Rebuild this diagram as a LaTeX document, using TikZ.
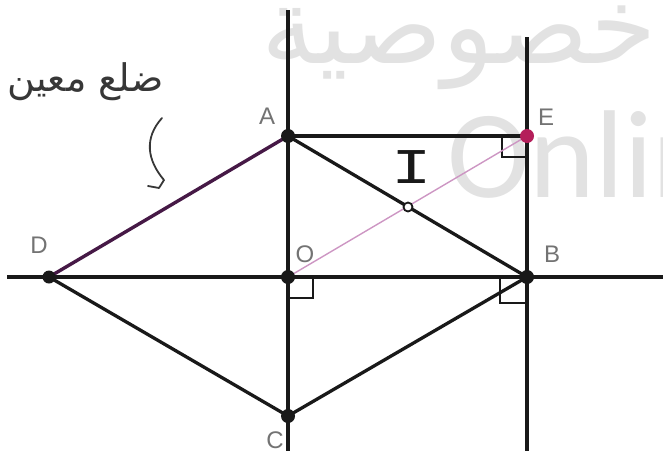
\documentclass[tikz,border=0pt]{standalone}
\usepackage{fontspec}
\setmainfont{Liberation Sans}
\newfontfamily\arabicfont[Script=Arabic]{DejaVu Sans}
\newfontfamily\wmfont{Carlito}
\newfontfamily\monoI{Liberation Mono}
\TeXXeTstate=1
\usepackage{graphicx}
\definecolor{lineblack}{RGB}{25,25,25}
\definecolor{sidepurple}{RGB}{70,25,70}
\definecolor{diagpink}{RGB}{205,150,195}
\definecolor{edot}{RGB}{180,30,90}
\definecolor{labelgray}{RGB}{115,115,115}
\definecolor{wmgray}{RGB}{226,226,226}
\definecolor{handgray}{RGB}{55,55,55}
\tikzset{
  geoline/.style={draw=lineblack, line width=3.3pt},
  axisline/.style={draw=lineblack, line width=3.1pt},
  rightmark/.style={draw=lineblack, line width=2.3pt},
  blackdot/.style={circle, fill=lineblack, minimum size=14pt, inner sep=0pt},
  reddot/.style={circle, fill=edot, minimum size=14pt, inner sep=0pt},
  opendot/.style={circle, draw=lineblack, fill=white, line width=1.8pt, minimum size=9pt, inner sep=0pt},
  ptlabel/.style={text=labelgray, font=\fontsize{24}{24}\selectfont, inner sep=0pt},
  wmtext/.style={text=wmgray, inner sep=0pt}
}
\begin{document}
\begin{tikzpicture}[x=1pt,y=-1pt]
\useasboundingbox (0,0) rectangle (663,450);
% watermark
\node[wmtext, anchor=north west] (wmar) at (261,6) {\resizebox{396pt}{!}{\arabicfont\beginR خصوصية\endR}};
\node[wmtext, anchor=base west, font=\wmfont\fontsize{125}{125}\selectfont] (wmen) at (447,197) {Online};
% points
\coordinate (A) at (288,136);
\coordinate (E) at (527,136);
\coordinate (O) at (288,277);
\coordinate (B) at (527,277);
\coordinate (D) at (49,277);
\coordinate (C) at (288,416);
\coordinate (I) at (408,207);
% free ends of the lines
\coordinate (v1top) at (288,10);
\coordinate (v1bot) at (288,452);
\coordinate (v2top) at (527,37);
\coordinate (v2bot) at (527,452);
\coordinate (hleft) at (7,277);
\coordinate (hright) at (665,277);
% axes
\draw[axisline] (v1top) -- (v1bot);
\draw[axisline] (v2top) -- (v2bot);
\draw[axisline] (hleft) -- (hright);
% right angle marks
\draw[rightmark] (502,136) -- (502,157) -- (527,157);
\draw[rightmark] (288,298) -- (313,298) -- (313,277);
\draw[rightmark] (500,277) -- (500,303) -- (527,303);
% figure
\draw[geoline] (A) -- (E);
\draw[geoline] (A) -- (B);
\draw[geoline] (B) -- (C);
\draw[geoline] (C) -- (D);
\draw[line width=3.4pt, draw=sidepurple] (D) -- (A);
\draw[line width=1.4pt, draw=diagpink] (O) -- (E);
% dots
\node[blackdot] (nA) at (A) {};
\node[blackdot] (nO) at (O) {};
\node[blackdot] (nB) at (B) {};
\node[blackdot, minimum size=13pt] (nD) at (D) {};
\node[blackdot] (nC) at (C) {};
\node[reddot] (nE) at (E) {};
\node[opendot] (nI) at (I) {};
% labels
\node[ptlabel] (lA) at (267,116) {A};
\node[ptlabel] (lE) at (546,117) {E};
\node[ptlabel] (lO) at (305,254) {O};
\node[ptlabel] (lB) at (552,254) {B};
\node[ptlabel] (lD) at (39,245) {D};
\node[ptlabel] (lC) at (275,440) {C};
\node[inner sep=0pt, text=lineblack, font=\monoI\fontsize{50}{50}\selectfont] (lI) at (412,167) {\scalebox{1.35}[1]{I}};
% handwritten note and arrow
\node[anchor=east, text=handgray, font=\arabicfont\fontsize{38}{38}\selectfont, inner sep=0pt] (note) at (164,82) {\beginR ضلع معين\endR};
\coordinate (ar0) at (162,118);
\coordinate (ar1) at (164,180);
\coordinate (ar2) at (159,188);
\coordinate (ar3) at (148,186);
\draw[handgray, line width=1.8pt, line cap=round, line join=round] (ar0) .. controls (144,138) and (147,160) .. (ar1) -- (ar2) -- (ar3);
\end{tikzpicture}
\end{document}
